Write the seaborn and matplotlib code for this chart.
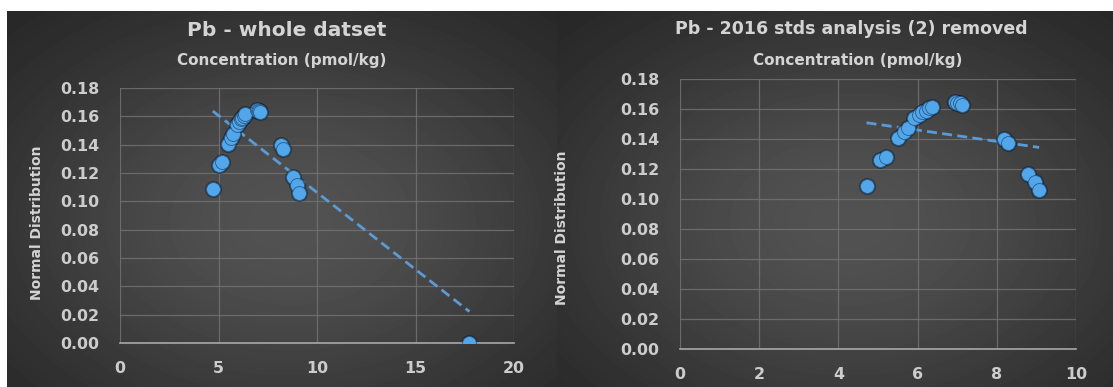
import numpy as np
import matplotlib
matplotlib.use("Agg")
import matplotlib.pyplot as plt
import seaborn as sns

# Pb concentration (pmol/kg) and its normal-distribution density
conc = [4.71, 5.04, 5.19, 5.50, 5.65, 5.75, 5.92, 6.04, 6.12, 6.21, 6.30,
        6.36, 6.95, 7.00, 7.08, 7.125, 8.17, 8.29, 8.79, 8.96, 9.07]
normdist = [0.1087, 0.126, 0.128, 0.1405, 0.145, 0.1476, 0.154, 0.156,
            0.158, 0.159, 0.1605, 0.1615, 0.1645, 0.164, 0.1638, 0.163,
            0.1398, 0.137, 0.117, 0.1115, 0.106]
# 2016 standards analysis, present only in the whole dataset
std_conc = [17.74]
std_normdist = [0.0]

conc_all = conc + std_conc
normdist_all = normdist + std_normdist

left_title = "Pb - whole datset"
right_title = "Pb - 2016 stds analysis (2) removed"
x_title = "Concentration (pmol/kg)"
y_title = "Normal Distribution"
left_xticks = [0, 5, 10, 15, 20]
right_xticks = [0, 2, 4, 6, 8, 10]
yticks = [0.00, 0.02, 0.04, 0.06, 0.08, 0.10, 0.12, 0.14, 0.16, 0.18]

sns.set_theme(style="dark")
plt.rcParams["font.family"] = ["DejaVu Sans"]

W, H = 1113, 387
fig = plt.figure(figsize=(W / 100, H / 100), dpi=100, facecolor="white")

# dark radial-gradient chart backgrounds
top = 11
bg = fig.add_axes([0, 0, 1, (H - top) / H])
bg.set_axis_off()
bg.set_zorder(-10)
yy, xx = np.mgrid[0:H - top, 0:W]


def radial(cx, cy, sx, sy):
    return np.sqrt(((xx - cx) / sx) ** 2 + ((yy - cy) / sy) ** 2)


r = np.where(xx < 557, radial(290, 210, 360, 250), radial(850, 210, 360, 250))
shade = 0.12 + 0.2 * np.exp(-1.3 * r ** 2)
shade[:, :7] = 1.0
bg.imshow(shade, cmap="gray", vmin=0, vmax=1, aspect="auto",
          interpolation="bilinear")

text_col = "#d4d4d4"
tick_col = "#cccccc"
dot_col = "#52a6ea"
trend_col = "#5b9bd5"


def add_panel(x0, x1, ytop, ybot):
    ax = fig.add_axes([x0 / W, 1 - ybot / H, (x1 - x0) / W, (ybot - ytop) / H])
    ax.set_facecolor("none")
    return ax


def style_panel(ax, xt, xmax):
    ax.set_xlim(0, xmax)
    ax.set_ylim(0, 0.18)
    ax.set_xticks(xt, [str(t) for t in xt], fontweight="bold")
    ax.set_yticks(yticks, [f"{t:.2f}" for t in yticks], fontweight="bold")
    ax.tick_params(axis="both", length=0, colors=tick_col, labelsize=11.4)
    ax.tick_params(axis="y", pad=15)
    ax.tick_params(axis="x", pad=13)
    ax.grid(True, color="#727272", lw=0.9, alpha=0.85)
    ax.set_axisbelow(True)
    for s in ["top", "right", "left"]:
        ax.spines[s].set_visible(False)
    ax.spines["bottom"].set_color("#a8a8a8")
    ax.spines["bottom"].set_linewidth(1.2)
    ax.set_xlabel("")
    ax.set_ylabel("")


def draw(ax, x, y):
    sns.regplot(x=x, y=y, ax=ax, scatter=False, ci=None, truncate=True,
                color=trend_col,
                line_kws=dict(linestyle=(0, (3.6, 1.9)), linewidth=2.0, zorder=2))
    # soft dark shadow under each marker
    sns.scatterplot(x=x, y=y, ax=ax, s=150, color="#15202b", alpha=0.55,
                    linewidth=0, zorder=2.5, legend=False)
    sns.scatterplot(x=x, y=y, ax=ax, s=100, color=dot_col,
                    edgecolor="#2a5a8a", linewidth=0.6, zorder=3, legend=False)


axl = add_panel(120, 514, 88, 343)
draw(axl, conc_all, normdist_all)
style_panel(axl, left_xticks, 20)

axr = add_panel(680, 1076, 79, 349)
draw(axr, conc, normdist)
style_panel(axr, right_xticks, 10)


def ftext(x, y, s, **kw):
    fig.text(x / W, 1 - y / H, s, ha="center", va="center",
             color=text_col, fontweight="bold", **kw)


ftext(287, 31, left_title, fontsize=14.5)
ftext(282, 61, x_title, fontsize=11)
ftext(37, 223, y_title, fontsize=10, rotation=90)

ftext(851, 29, right_title, fontsize=12.5)
ftext(858, 61, x_title, fontsize=11)
ftext(562, 228, y_title, fontsize=10, rotation=90)

fig.savefig("out.png", dpi=100, facecolor=fig.get_facecolor())
